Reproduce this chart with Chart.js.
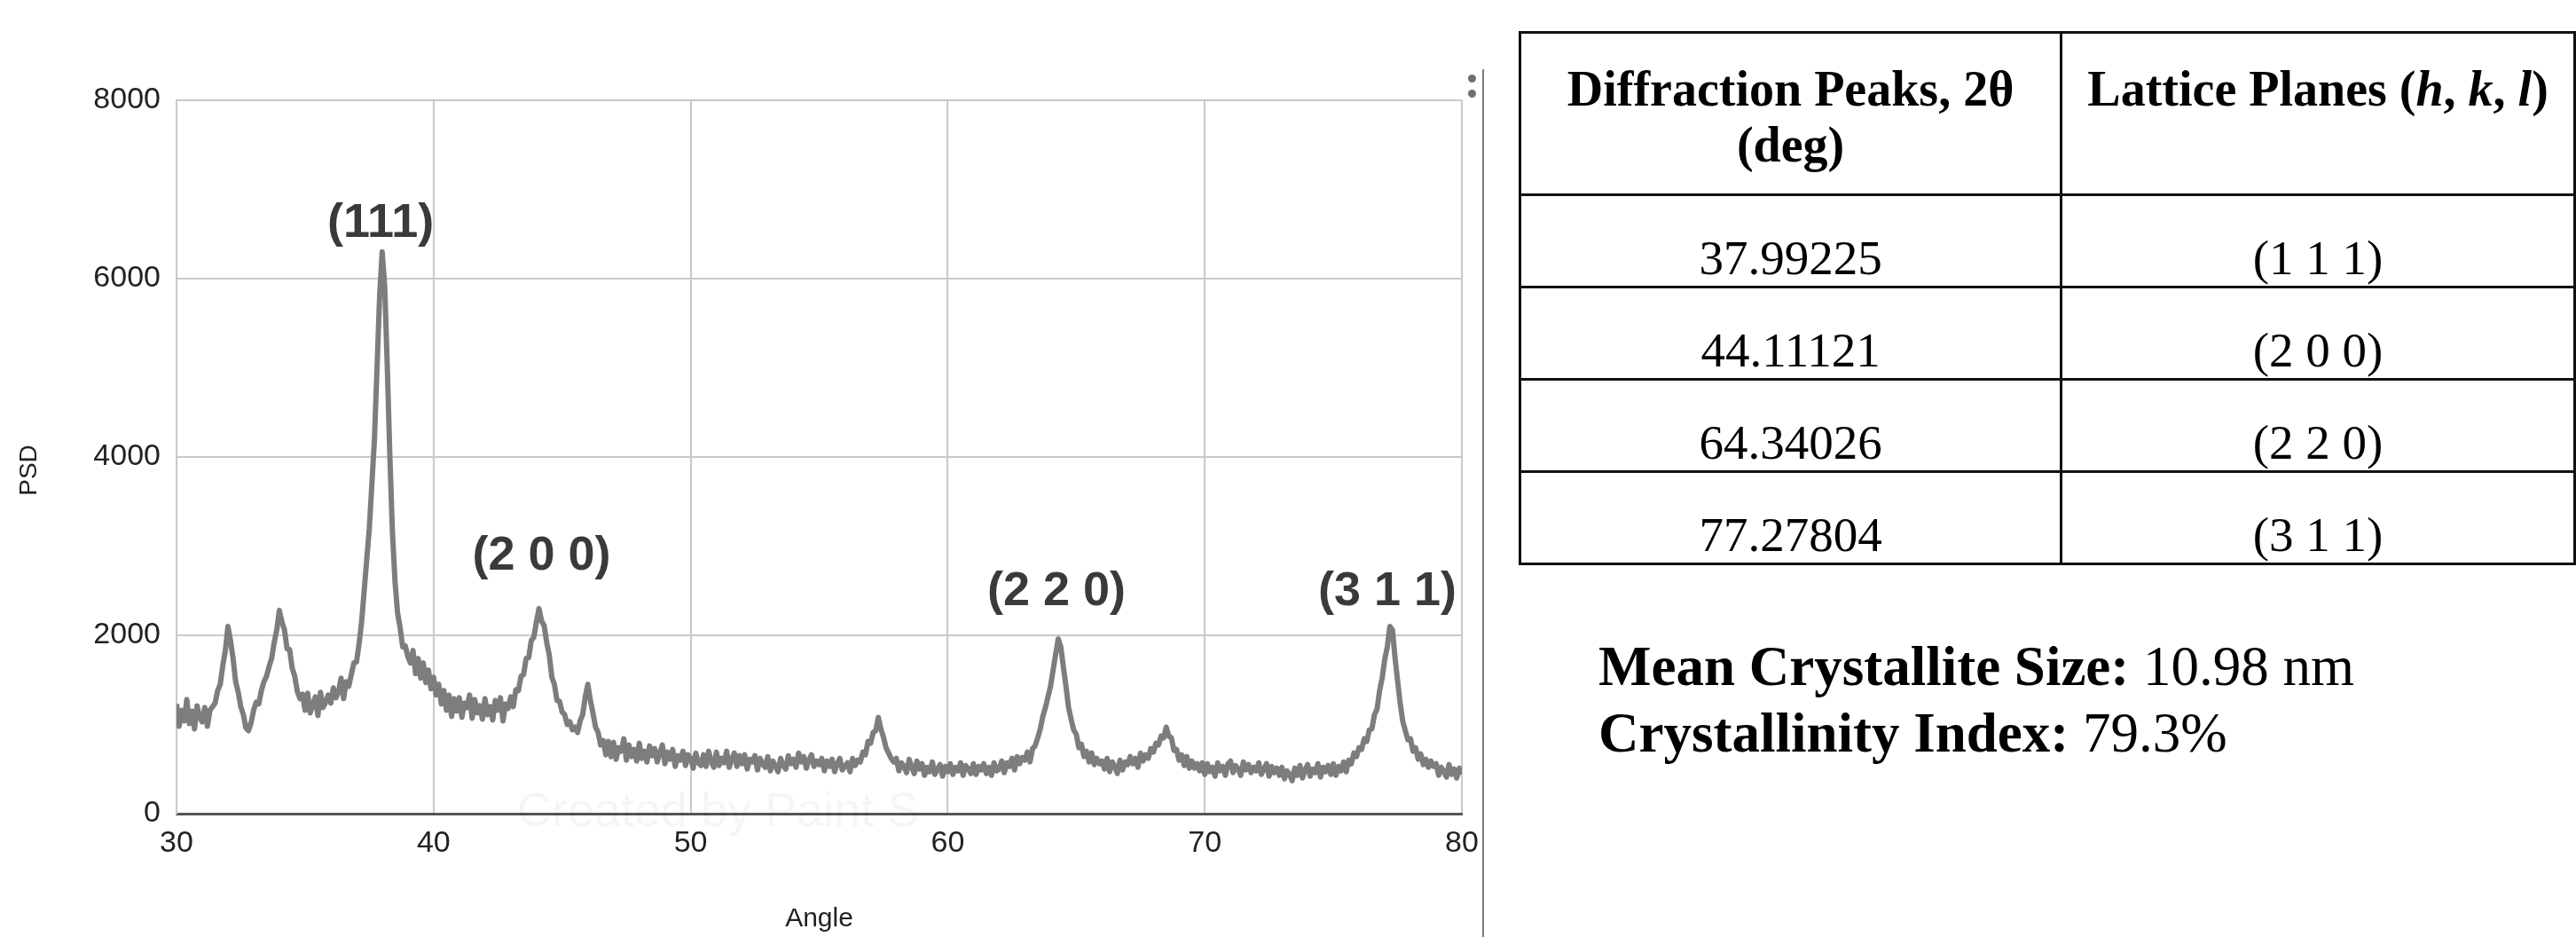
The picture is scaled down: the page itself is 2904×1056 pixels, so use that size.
<!DOCTYPE html>
<html>
<head>
<meta charset="utf-8">
<script src="https://cdn.jsdelivr.net/npm/chart.js@4.4.1/dist/chart.umd.min.js"></script>
<style>
  html, body { margin:0; padding:0; background:#fff; }
  body { width:2904px; height:1056px; position:relative; overflow:hidden; }
  #chart-box { position:absolute; left:0; top:0; width:1700px; height:1056px; }
  .divider { position:absolute; left:1671px; top:78px; width:2px; height:978px; background:#7a7a7a; }
  .dot { position:absolute; left:1655px; width:9px; height:9px; border-radius:50%; background:#707070; }
  table.peaks { position:absolute; left:1712px; top:35px; border-collapse:collapse; font-family:"Liberation Serif", "Times New Roman", serif; color:#000; }
  table.peaks td, table.peaks th { border:3px solid #111; text-align:center; padding:0; }
  table.peaks th { font-size:56px; font-weight:bold; line-height:63px; vertical-align:top; padding-top:31px; height:149px; }
  table.peaks td { font-size:55px; line-height:63px; vertical-align:bottom; height:101px; }
  .stats { position:absolute; left:1802px; top:714px; font-family:"Liberation Serif", "Times New Roman", serif; font-size:63px; line-height:75px; color:#000; white-space:nowrap; }
</style>
</head>
<body>

<div id="chart-box"><canvas id="chart-xrd"></canvas></div>
<div class="divider"></div>
<div class="dot" style="top:84px"></div>
<div class="dot" style="top:101px"></div>

<table class="peaks">
  <tr>
    <th style="width:614px">Diffraction Peaks, 2θ<br>(deg)</th>
    <th style="width:584px">Lattice Planes (<i>h</i>, <i>k</i>, <i>l</i>)</th>
  </tr>
  <tbody id="peak-rows"></tbody>
</table>

<div class="stats">
  <div><b>Mean Crystallite Size:</b> 10.98 nm</div>
  <div><b>Crystallinity Index:</b> 79.3%</div>
</div>

<script>
// --- DATA ---
const angleStart = 30;
const angleStep = 0.1;
const psdValues = [
  1230,  980, 1160, 1040, 1280, 1010, 1150,  950, 1210, 1080, // 30
  1030, 1190,  980, 1160, 1200, 1240, 1380, 1450, 1660, 1830, // 31
  2100, 1940, 1740, 1480, 1360, 1200, 1110,  960,  930, 1020, // 32
  1160, 1250, 1230, 1380, 1480, 1540, 1650, 1740, 1920, 2060, // 33
  2280, 2150, 2060, 1850, 1840, 1630, 1540, 1370, 1290, 1340, // 34
  1160, 1350, 1130, 1220, 1310, 1100, 1360, 1190, 1250, 1330, // 35
  1240, 1410, 1300, 1360, 1520, 1290, 1480, 1430, 1560, 1690, // 36
  1700, 1900, 2150, 2500, 2850, 3200, 3700, 4200, 5000, 5800, // 37
  6300, 5900, 5000, 4000, 3150, 2600, 2250, 2080, 1870, 1880, // 38
  1760, 1690, 1830, 1570, 1740, 1520, 1690, 1470, 1610, 1400, // 39
  1530, 1330, 1450, 1230, 1380, 1160, 1330, 1090, 1290, 1150, // 40
  1300, 1080, 1240, 1190, 1330, 1070, 1280, 1130, 1210, 1060, // 41
  1290, 1110, 1200, 1050, 1270, 1160, 1300, 1040, 1230, 1180, // 42
  1310, 1200, 1390, 1380, 1540, 1560, 1740, 1750, 1940, 1980, // 43
  2150, 2300, 2160, 2110, 1920, 1780, 1530, 1450, 1270, 1260, // 44
  1140, 1110, 1000, 1030,  940,  970,  910, 1040, 1110, 1310, // 45
  1450, 1270, 1130,  970,  910,  770,  820,  660,  810,  640, // 46
   800,  610,  740,  700,  840,  600,  770,  640,  720,  590, // 47
   790,  620,  700,  580,  760,  650,  730,  580,  680,  770, // 48
   560,  690,  610,  720,  530,  650,  600,  700,  540,  660, // 49
   620,  510,  680,  570,  540,  660,  530,  700,  580,  520, // 50
   690,  540,  620,  570,  700,  520,  610,  680,  530,  650, // 51
   560,  660,  500,  610,  580,  650,  490,  620,  560,  520, // 52
   640,  480,  590,  530,  470,  620,  540,  500,  650,  560, // 53
   610,  520,  680,  580,  640,  510,  600,  660,  530,  590, // 54
   550,  620,  480,  590,  530,  610,  470,  560,  620,  490, // 55
   530,  570,  470,  620,  540,  600,  580,  690,  660,  810, // 56
   790,  910,  930, 1080,  950,  860,  740,  680,  620,  580, // 57
   620,  480,  570,  530,  460,  610,  520,  450,  590,  500, // 58
   560,  430,  520,  470,  580,  440,  500,  550,  420,  530, // 59
   470,  560,  440,  520,  480,  570,  430,  540,  500,  450, // 60
   560,  440,  530,  490,  560,  450,  520,  430,  570,  480, // 61
   500,  590,  460,  570,  530,  620,  490,  640,  560,  630, // 62
   600,  690,  580,  730,  760,  850,  950, 1090, 1190, 1310, // 63
  1430, 1610, 1790, 1960, 1870, 1640, 1430, 1190, 1060,  940, // 64
   890,  740,  780,  640,  700,  580,  680,  550,  620,  560, // 65
   590,  500,  620,  470,  580,  530,  450,  600,  490,  580, // 66
   550,  640,  560,  620,  520,  680,  590,  660,  620,  730, // 67
   690,  790,  770,  870,  850,  970,  870,  850,  710,  720, // 68
   600,  660,  540,  640,  510,  590,  510,  560,  480,  570, // 69
   440,  560,  470,  520,  420,  570,  480,  530,  430,  560, // 70
   590,  460,  540,  500,  430,  580,  490,  550,  460,  520, // 71
   480,  570,  440,  500,  560,  420,  530,  460,  510,  430, // 72
   520,  390,  480,  440,  370,  510,  430,  540,  400,  490, // 73
   550,  420,  500,  460,  560,  410,  520,  470,  540,  440, // 74
   560,  430,  530,  480,  580,  470,  600,  560,  680,  640, // 75
   740,  720,  840,  810,  940,  950, 1110, 1170, 1380, 1520, // 76
  1730, 1870, 2100, 2060, 1750, 1490, 1240, 1040,  930,  830, // 77
   840,  700,  740,  610,  670,  550,  610,  520,  590,  530, // 78
   560,  430,  520,  470,  410,  550,  440,  500,  400,  510, // 79
   440                                                        // 80
];

// peak labels drawn over the curve (angle, PSD of the label centre)
const peakLabels = ['(111)', '(2 0 0)', '(2 2 0)', '(3 1 1)'];
const peakLabelAngles = [37.94, 44.2, 64.23, 77.1];
const peakLabelPsd = [6620, 2880, 2490, 2490];

// table
const tablePeaks = ['37.99225', '44.11121', '64.34026', '77.27804'];
const tablePlanes = ['(1 1 1)', '(2 0 0)', '(2 2 0)', '(3 1 1)'];

const xTicks = [30, 40, 50, 60, 70, 80];
const yTicks = [0, 2000, 4000, 6000, 8000];

// --- TABLE ---
document.getElementById('peak-rows').innerHTML = tablePeaks.map((p, i) => `
  <tr><td>${p}</td><td>${tablePlanes[i]}</td></tr>`).join('');

// --- CHART ---
const points = psdValues.map((v, i) => ({ x: +(angleStart + i * angleStep).toFixed(2), y: v }));
const FONT = '"Liberation Sans", Arial, sans-serif';

const peakLabelPlugin = {
  id: 'peakLabels',
  beforeDatasetsDraw(chart) {
    const ctx = chart.ctx;
    ctx.save();
    // faint watermark
    ctx.font = '54px ' + FONT;
    ctx.fillStyle = 'rgba(0,0,0,0.04)';
    ctx.textBaseline = 'middle';
    ctx.fillText('Created by Paint S', 583, 916);
    // vertical axis title
    ctx.translate(33, 530);
    ctx.rotate(-Math.PI / 2);
    ctx.font = '28px ' + FONT;
    ctx.fillStyle = '#222';
    ctx.textAlign = 'center';
    ctx.fillText('PSD', 0, 0);
    ctx.restore();
  },
  afterDatasetsDraw(chart) {
    const ctx = chart.ctx;
    const xs = chart.scales.x, ys = chart.scales.y;
    ctx.save();
    ctx.font = 'bold 54px ' + FONT;
    ctx.fillStyle = '#3a3a3a';
    ctx.textAlign = 'center';
    ctx.textBaseline = 'middle';
    peakLabels.forEach((t, i) => {
      ctx.fillText(t, xs.getPixelForValue(peakLabelAngles[i]), ys.getPixelForValue(peakLabelPsd[i]));
    });
    ctx.restore();
  }
};

new Chart(document.getElementById('chart-xrd'), {
  type: 'line',
  data: {
    datasets: [{
      data: points,
      borderColor: '#7d7d7d',
      borderWidth: 6,
      borderJoinStyle: 'round',
      pointRadius: 0,
      tension: 0,
      fill: false
    }]
  },
  options: {
    responsive: true,
    maintainAspectRatio: false,
    animation: false,
    layout: { padding: { left: 0, right: 52, top: 113, bottom: 0 } },
    plugins: { legend: { display: false }, tooltip: { enabled: false } },
    scales: {
      x: {
        type: 'linear',
        min: 30, max: 80,
        afterBuildTicks: s => { s.ticks = xTicks.map(v => ({ value: v })); },
        afterFit: s => { s.height = 139; },
        grid: { color: '#c9c9c9', lineWidth: 2, drawTicks: false },
        border: { display: true, color: '#555', width: 3 },
        ticks: { padding: 13, color: '#222', callback: v => String(v), font: { family: FONT, size: 34 } },
        title: { display: true, text: 'Angle', color: '#222', padding: { top: 0, bottom: 2 },
                 font: { family: FONT, size: 30 } }
      },
      y: {
        min: 0, max: 8000,
        afterBuildTicks: s => { s.ticks = yTicks.map(v => ({ value: v })); },
        afterFit: s => { s.width = 199; },
        grid: { color: c => c.tick && c.tick.value === 0 ? 'rgba(0,0,0,0)' : '#c9c9c9', lineWidth: 2, drawTicks: false },
        border: { display: true, color: '#c9c9c9', width: 2 },
        ticks: { padding: 18, color: '#222', callback: v => String(v), font: { family: FONT, size: 34 } }
      }
    }
  },
  plugins: [peakLabelPlugin]
});
</script>
</body>
</html>
